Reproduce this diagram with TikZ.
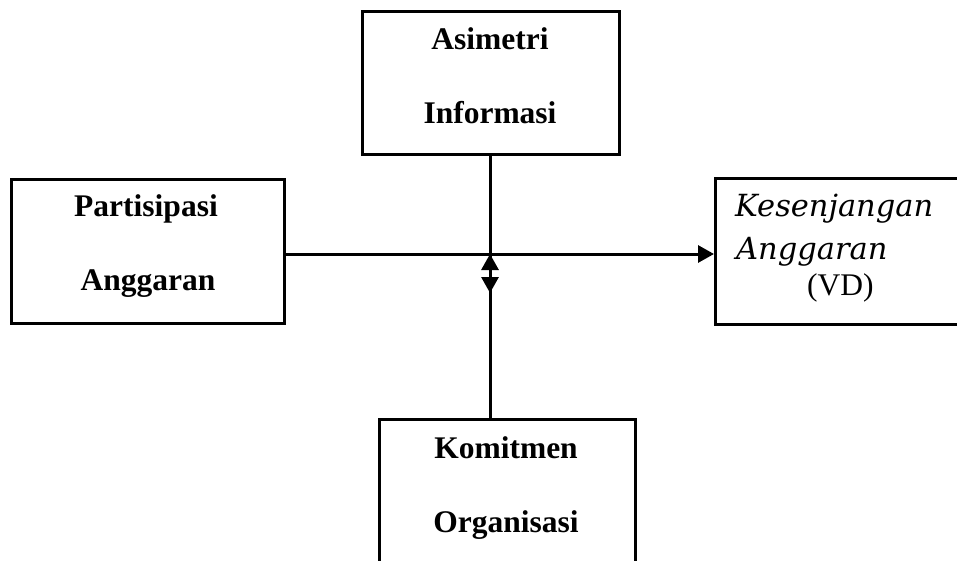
\documentclass[tikz,border=0pt]{standalone}
\usepackage{fontspec}
\setmainfont{Liberation Serif}
\newfontfamily\bookit{DejaVu Serif}
\usetikzlibrary{arrows.meta}
\tikzset{arrtip/.tip={Triangle[length=16pt 0,width=17pt 0]}}
\begin{document}
\begin{tikzpicture}[x=1pt,y=-1pt,
  box/.style={draw,line width=2.6pt,minimum width=#1,inner sep=0pt,anchor=north west},
  conn/.style={line width=3pt},
  lbl/.style={anchor=base,inner sep=0pt,font=\fontsize{31.5}{31.5}\selectfont\bfseries},
  kit/.style={anchor=base west,inner sep=0pt,font=\fontsize{30.5}{30.5}\selectfont\bookit\itshape}]
\useasboundingbox (0,0) rectangle (957,561);
\clip (0,0) rectangle (957,561);
\fill[white] (0,0) rectangle (957,561);
% boxes
\node[box=257pt,minimum height=143pt] (A) at (361,10) {};
\node[box=273pt,minimum height=144pt] (P) at (10,178) {};
\node[box=270pt,minimum height=146pt] (K) at (714,177) {};
\node[box=256pt,minimum height=160pt] (O) at (378,418) {};
% labels
\node[lbl] (a1) at (490,50) {Asimetri};
\node[lbl] (a2) at (490,124) {Informasi};
\node[lbl] (p1) at (146,217) {Partisipasi};
\node[lbl] (p2) at (148,290) {Anggaran};
\node[lbl] (o1) at (506,458) {Komitmen};
\node[lbl] (o2) at (506,532) {Organisasi};
\node[kit] (k1) at (735,217) {Kesenjangan};
\node[kit] (k2) at (736,259) {Anggaran};
\node[anchor=base west,inner sep=0pt,font=\fontsize{31.5}{31.5}\selectfont] (k3) at (807,295) {(VD)};
% connectors
\coordinate (h) at (490,254);
\coordinate (d) at (490,293);
\draw[conn,-{arrtip}] (P.east |- h) -- (K.west |- h);
\draw[conn] (A.south -| h) -- (O.north -| h);
\draw[conn,{arrtip}-{arrtip}] (h) -- (d);
\end{tikzpicture}
\end{document}
